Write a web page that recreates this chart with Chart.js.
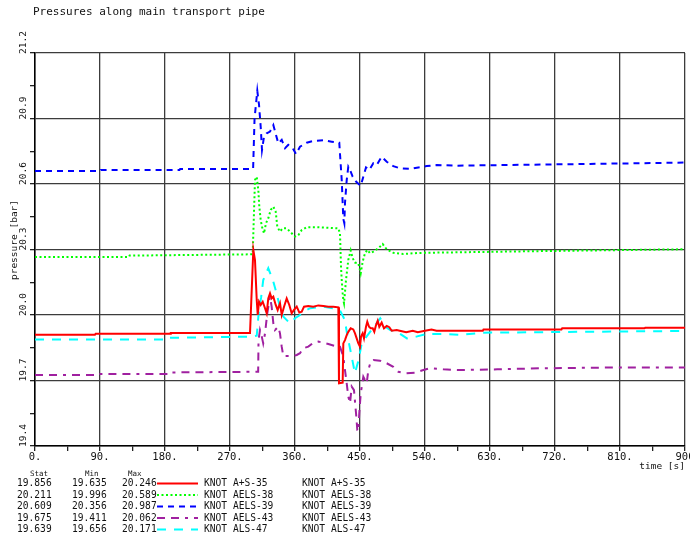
<!DOCTYPE html>
<html>
<head>
<meta charset="utf-8">
<script src="https://cdn.jsdelivr.net/npm/chart.js@4/dist/chart.umd.min.js"></script>
<style>
  html, body { margin: 0; padding: 0; background: #fff; }
  #wrap { position: relative; width: 690px; height: 537px; }
</style>
</head>
<body>
<div id="wrap"><canvas id="c"></canvas></div>
<script>
// ---- text ----
const chartTitle = 'Pressures along main transport pipe';
const yAxisTitle = 'pressure [bar]';
const xAxisTitle = 'time [s]';
const xTickValues = [0, 90, 180, 270, 360, 450, 540, 630, 720, 810, 900];
const xTickLabels = ['0.', '90.', '180.', '270.', '360.', '450.', '540.', '630.', '720.', '810.', '900'];
const yTickValues = [19.4, 19.7, 20.0, 20.3, 20.6, 20.9, 21.2];
const yTickLabels = ['19.4', '19.7', '20.0', '20.3', '20.6', '20.9', '21.2'];

// ---- summary table ----
const seriesNames = ['KNOT A+S-35', 'KNOT AELS-38', 'KNOT AELS-39', 'KNOT AELS-43', 'KNOT ALS-47'];
const statValues = ['19.856', '20.211', '20.609', '19.675', '19.639'];
const minValues  = ['19.635', '19.996', '20.356', '19.411', '19.656'];
const maxValues  = ['20.246', '20.589', '20.987', '20.062', '20.171'];

// ---- series: [time s, pressure bar] ----
const knotAS35 = [
  [0,19.910],[83,19.910],[84,19.914],[187,19.914],[188,19.917],[297.7,19.917],
  [302.3,20.298],[304.6,20.252],[307,20.069],[308.4,20.000],[310.2,20.061],[312.5,20.046],
  [315.3,20.061],[318.5,20.031],[320.8,20.008],[323,20.076],[325.4,20.099],[327.7,20.076],
  [330,20.084],[333.3,20.046],[336,20.023],[339.2,20.054],[341.6,20.000],[344.8,20.038],
  [348.5,20.076],[352.1,20.046],[355.4,20.008],[358.6,20.023],[362.4,20.038],[366,20.011],
  [369.3,20.015],[372.5,20.038],[378.4,20.041],[385.3,20.038],[392.3,20.044],[399.2,20.041],
  [406.1,20.038],[413,20.038],[420,20.035],[420.9,19.687],[426,19.690],[426.9,19.870],
  [429.2,19.885],[431.6,19.908],[433.8,19.923],[437.1,19.939],[440.7,19.934],[443.1,19.916],
  [445.4,19.893],[447.7,19.870],[450,19.855],[451.4,19.901],[453.7,19.916],[455.5,19.893],
  [458.3,19.946],[460.1,19.969],[462.5,19.946],[464.8,19.939],[467.6,19.939],[469.8,19.923],
  [472.2,19.954],[474.5,19.974],[476.7,19.946],[480,19.965],[483.2,19.939],[487,19.950],
  [490.6,19.944],[493.9,19.928],[500.8,19.931],[505,19.928],[514,19.921],[523,19.928],
  [530,19.921],[540,19.928],[549,19.934],[556,19.928],[620,19.928],[621,19.934],
  [729,19.934],[730,19.939],[844,19.939],[845,19.942],[900,19.942]
];
const knotAELS38 = [
  [0,20.266],[130,20.266],[131,20.272],[301.4,20.278],[304.6,20.618],[307,20.633],
  [309.2,20.573],[310.6,20.496],[312.5,20.435],[314.3,20.404],[317.1,20.374],[319.8,20.420],
  [323,20.443],[326.4,20.481],[330,20.496],[333.3,20.473],[335.5,20.404],[339.2,20.382],
  [343,20.397],[348.5,20.397],[353.1,20.382],[360,20.359],[364.6,20.366],[369.3,20.389],
  [376.2,20.402],[390,20.402],[403.9,20.400],[420,20.397],[422.3,20.374],[423.7,20.221],
  [424.7,20.160],[426,20.099],[426.9,20.069],[427.9,20.054],[430.6,20.160],[433.8,20.252],
  [437.1,20.295],[439.9,20.260],[443.1,20.240],[447.7,20.237],[451,20.191],[453.7,20.244],
  [456.9,20.283],[460.1,20.298],[463.8,20.283],[468.4,20.290],[475.3,20.305],[481.4,20.325],
  [487,20.301],[496.1,20.285],[509.9,20.279],[523.8,20.283],[542.4,20.285],[643.8,20.290],
  [754.6,20.295],[900,20.301]
];
const knotAELS39 = [
  [0,20.660],[90,20.660],[91,20.664],[200,20.664],[201,20.669],[302,20.669],
  [304,20.900],[307.8,21.027],[310.2,20.962],[312.5,20.862],[314.3,20.756],[317.1,20.817],
  [320.8,20.832],[325.4,20.840],[330,20.870],[333.7,20.824],[336.9,20.786],[341.6,20.802],
  [346.2,20.764],[350.7,20.779],[356.8,20.764],[361.4,20.737],[366.9,20.771],[376.2,20.789],
  [385.3,20.797],[399.2,20.800],[410.8,20.794],[421.3,20.789],[424.7,20.618],[426.9,20.440],
  [428.3,20.420],[429.2,20.512],[431.6,20.618],[433.8,20.679],[436.2,20.664],[439.9,20.633],
  [444.5,20.611],[451,20.591],[454.6,20.633],[458.3,20.676],[462.9,20.664],[468.4,20.695],
  [473.1,20.687],[480,20.725],[487,20.702],[496.1,20.682],[505.4,20.672],[519.2,20.669],
  [530.7,20.676],[542.4,20.682],[556.2,20.687],[583.9,20.684],[653.1,20.687],[768.5,20.692],
  [900,20.698]
];
const knotAELS43 = [
  [0,19.725],[85,19.725],[86,19.730],[185,19.730],[186,19.737],[309,19.740],
  [309.5,19.885],[311.5,19.931],[314,19.901],[316,19.870],[318.5,19.916],[321.6,20.008],
  [325.4,20.084],[327.7,20.038],[330,19.962],[332.3,19.931],[334.7,19.939],[336.9,19.946],
  [339.2,19.916],[341.6,19.855],[343.8,19.812],[357.6,19.812],[362.4,19.817],[366.9,19.825],
  [371.5,19.848],[378.4,19.855],[385.3,19.873],[392.3,19.878],[399.2,19.873],[406.1,19.867],
  [415.4,19.858],[422.3,19.855],[426.9,19.809],[429.2,19.748],[431.6,19.687],[433.8,19.626],
  [436.2,19.596],[438.5,19.672],[441.7,19.656],[444.5,19.550],[446.3,19.473],[447.7,19.466],
  [449,19.550],[451,19.641],[454.6,19.717],[459.3,19.687],[461.5,19.748],[464.8,19.786],
  [468.4,19.794],[477.7,19.791],[487,19.779],[496.1,19.763],[503,19.740],[512.3,19.733],
  [526.2,19.736],[537.7,19.748],[546.9,19.756],[565.3,19.751],[588.5,19.748],[640,19.751],
  [700,19.756],[810,19.760],[900,19.760]
];
const knotALS47 = [
  [0,19.888],[180,19.888],[181,19.895],[300,19.901],[307,19.905],[310,20.020],
  [313,20.078],[316,20.160],[323,20.214],[330,20.153],[335,20.092],[339,20.038],
  [344,19.992],[353,19.962],[360,19.985],[367,20.000],[372,20.015],[381,20.031],
  [390,20.035],[399,20.038],[413,20.031],[422,20.023],[429,19.977],[432,19.916],
  [438.5,19.809],[443,19.733],[448,19.794],[452,19.863],[459,19.901],[466,19.931],
  [473,19.962],[478,19.985],[485,19.946],[492,19.931],[501,19.923],[515,19.893],
  [528,19.901],[542,19.913],[565,19.913],[589,19.909],[620,19.919],[900,19.927]
];

const seriesData = [knotAS35, knotAELS38, knotAELS39, knotAELS43, knotALS47];
const seriesColors = ['#ff0000', '#00ff00', '#0000ff', '#a020a0', '#00ffff'];
const seriesDashes = [[], [2, 2.5], [6, 5], [8, 6, 8, 6, 3, 6], [9, 8]];

const MONO = '"DejaVu Sans Mono", "Liberation Mono", monospace';

function isMajorY(v) {
  return Math.abs(Math.round(v * 100) - 1940) % 30 === 0;
}

const textLayer = {
  id: 'textLayer',
  afterDraw(chart) {
    const ctx = chart.ctx;
    const xs = chart.scales.x, ys = chart.scales.y;
    ctx.save();
    ctx.fillStyle = '#111';

    // title
    ctx.font = '11px ' + MONO;
    ctx.textAlign = 'left';
    ctx.textBaseline = 'middle';
    ctx.fillText(chartTitle, 33, 12);

    // x tick labels
    ctx.font = '10.5px ' + MONO;
    ctx.textAlign = 'center';
    xTickValues.forEach((v, i) => {
      ctx.fillText(xTickLabels[i], xs.getPixelForValue(v), 457);
    });
    ctx.font = '9.5px ' + MONO;
    ctx.textAlign = 'right';
    ctx.fillText(xAxisTitle, xs.right, 467);

    // y tick labels, rotated, starting at their grid line
    ctx.font = '9.5px ' + MONO;
    yTickValues.forEach((v, i) => {
      ctx.save();
      ctx.translate(24, ys.getPixelForValue(v));
      ctx.rotate(-Math.PI / 2);
      ctx.textAlign = 'left';
      ctx.textBaseline = 'middle';
      ctx.fillText(yTickLabels[i], -1, 0);
      ctx.restore();
    });
    ctx.save();
    ctx.translate(15, 240);
    ctx.rotate(-Math.PI / 2);
    ctx.textAlign = 'center';
    ctx.textBaseline = 'middle';
    ctx.fillText(yAxisTitle, 0, 0);
    ctx.restore();

    // summary table
    ctx.textAlign = 'left';
    ctx.font = '7.5px ' + MONO;
    ctx.fillText('Stat', 30, 474);
    ctx.fillText('Min', 85, 474);
    ctx.fillText('Max', 128, 474);
    ctx.font = '9.6px ' + MONO;
    const rowY = [483.5, 495, 506.5, 518, 529.5];
    seriesNames.forEach((name, i) => {
      const y = rowY[i];
      ctx.fillStyle = '#111';
      ctx.fillText(statValues[i], 17, y);
      ctx.fillText(minValues[i], 72, y);
      ctx.fillText(maxValues[i], 122, y);
      ctx.fillText(name, 204, y);
      ctx.fillText(name, 302, y);
      ctx.save();
      ctx.strokeStyle = seriesColors[i];
      ctx.lineWidth = 2;
      ctx.setLineDash(seriesDashes[i]);
      ctx.beginPath();
      ctx.moveTo(157, y);
      ctx.lineTo(198, y);
      ctx.stroke();
      ctx.restore();
    });
    ctx.restore();
  }
};

const whiteBg = {
  id: 'whiteBg',
  beforeDraw(chart) {
    const ctx = chart.ctx;
    ctx.save();
    ctx.fillStyle = '#fff';
    ctx.fillRect(0, 0, chart.width, chart.height);
    ctx.restore();
  }
};

new Chart(document.getElementById('c'), {
  type: 'line',
  data: {
    datasets: seriesData.map((pts, i) => ({
      label: seriesNames[i],
      data: pts.map(p => ({ x: p[0], y: p[1] })),
      borderColor: seriesColors[i],
      borderDash: seriesDashes[i],
      borderWidth: 2,
      pointRadius: 0,
      tension: 0,
      fill: false
    }))
  },
  options: {
    responsive: true,
    maintainAspectRatio: false,
    animation: false,
    events: [],
    layout: { padding: { left: 0, right: 5, top: 53, bottom: 0 } },
    plugins: { legend: { display: false }, title: { display: false }, tooltip: { enabled: false } },
    scales: {
      x: {
        type: 'linear',
        min: 0, max: 900,
        afterFit(s) { s.height = 91; },
        ticks: { stepSize: 45, display: false },
        grid: {
          color: c => (c.tick && c.tick.value % 90 === 0) ? '#3c3c3c' : 'rgba(0,0,0,0)',
          lineWidth: 1.3,
          tickColor: '#222',
          tickLength: 5,
          drawTicks: true
        },
        border: { display: true, color: '#000', width: 1.5 }
      },
      y: {
        type: 'linear',
        min: 19.4, max: 21.2,
        afterFit(s) { s.width = 35; },
        ticks: { stepSize: 0.15, display: false },
        grid: {
          color: c => (c.tick && isMajorY(c.tick.value)) ? '#3c3c3c' : 'rgba(0,0,0,0)',
          lineWidth: 1.3,
          tickColor: '#222',
          tickLength: 5,
          drawTicks: true
        },
        border: { display: true, color: '#000', width: 1.5 }
      }
    }
  },
  plugins: [whiteBg, textLayer]
});
</script>
</body>
</html>
